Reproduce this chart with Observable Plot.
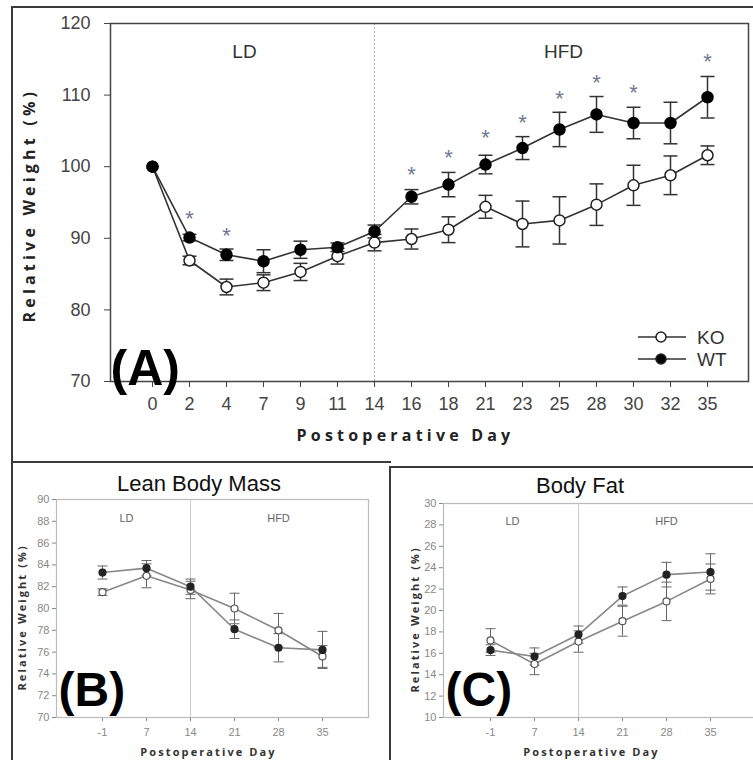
<!DOCTYPE html>
<html><head><meta charset="utf-8">
<script src="https://cdn.jsdelivr.net/npm/d3@7"></script>
<script src="https://cdn.jsdelivr.net/npm/@observablehq/plot@0.6"></script>
<style>
body{margin:0;background:#fff;}
#wrap{position:relative;width:753px;height:760px;overflow:hidden;background:#fff;font-family:"Liberation Sans",Arial,sans-serif;}
#wrap svg.plot{position:absolute;}
.ln{position:absolute;background:#3a3a3a;}
.ttl{position:absolute;font-size:22px;color:#111;transform:translate(-50%,-50%);white-space:nowrap;font-family:"Liberation Sans",Arial,sans-serif;}
</style></head><body><div id="wrap"></div>
<script>
// ---------- data ----------
const daysA = ["0","2","4","7","9","11","14","16","18","21","23","25","28","30","32","35"];
const koA    = [100,86.9,83.2,83.8,85.3,87.5,89.4,89.9,91.2,94.4,92.0,92.5,94.7,97.4,98.8,101.6];
const koAErr = [0,0.6,1.1,1.1,1.2,1.1,1.15,1.4,1.8,1.6,3.2,3.3,2.9,2.8,2.7,1.3];
const wtA    = [100,90.1,87.7,86.8,88.4,88.75,90.95,95.8,97.5,100.3,102.6,105.2,107.3,106.1,106.1,109.7];
const wtAErr = [0,0.45,0.8,1.6,1.2,0.6,0.9,1.0,1.7,1.3,1.6,2.4,2.5,2.2,2.9,2.9];
const starDays = ["2","4","16","18","21","23","25","28","30","35"];
const starY    = [93.6,91.1,99.75,102.0,104.8,107.0,110.3,112.6,111.1,115.4];
const ticksA = [70,80,90,100,110,120];

const daysBC = ["-1","7","14","21","28","35"];
const koB    = [81.5,83.0,81.7,80.0,78.0,75.6];
const koBErr = [0.3,1.1,0.8,1.4,1.55,1.0];
const wtB    = [83.3,83.7,82.0,78.1,76.4,76.2];
const wtBErr = [0.6,0.7,0.7,0.85,1.3,1.7];
const ticksB = [70,72,74,76,78,80,82,84,86,88,90];

const koC    = [17.2,15.0,17.1,19.0,20.85,22.95];
const koCErr = [1.1,1.0,1.0,1.4,1.8,1.4];
const wtC    = [16.3,15.7,17.75,21.35,23.35,23.6];
const wtCErr = [0.5,0.8,0.8,0.85,1.15,1.7];
const ticksC = [10,12,14,16,18,20,22,24,26,28,30];

const groups = ["KO","WT"];
const phases = ["LD","HFD"];
const titles = ["Lean Body Mass","Body Fat"];
const panelTags = ["(A)","(B)","(C)"];
const xTitle = "Postoperative Day";
const yTitle = "Relative Weight (%)";

// ---------- helpers ----------
const cap = {draw(ctx, size){const r = Math.sqrt(size/Math.PI); ctx.moveTo(-r,0); ctx.lineTo(r,0);}};
function rows(days, ko, koE, wt, wtE){
  return days.flatMap((d,i)=>[{day:d,v:ko[i],e:koE[i],g:"KO"},{day:d,v:wt[i],e:wtE[i],g:"WT"}]);
}
function errMarks(data, o){
  const d = data.filter(r=>r.e>0);
  return [
    Plot.ruleX(d,{x:"day",y1:r=>r.v-r.e,y2:r=>r.v+r.e,stroke:o.stroke,strokeWidth:o.sw}),
    Plot.dot(d,{x:"day",y:r=>r.v+r.e,symbol:cap,r:o.cap,stroke:o.stroke,strokeWidth:o.sw}),
    Plot.dot(d,{x:"day",y:r=>r.v-r.e,symbol:cap,r:o.cap,stroke:o.stroke,strokeWidth:o.sw})
  ];
}
const wrap = document.getElementById("wrap");
function place(svg, left, top){ svg.classList.add("plot"); svg.style.left=left+"px"; svg.style.top=top+"px"; wrap.appendChild(svg); }
function line(l,t,w,h){ const d=document.createElement("div"); d.className="ln"; Object.assign(d.style,{left:l+"px",top:t+"px",width:w+"px",height:h+"px"}); wrap.appendChild(d); }
function spaceLabels(svg, sp){
  d3.select(svg).selectAll("text").filter(function(){return this.textContent===xTitle||this.textContent===yTitle;})
    .style("letter-spacing", sp+"px");
}

// ---------- panel A ----------
const dataA = rows(daysA, koA, koAErr, wtA, wtAErr);
const plotA = Plot.plot({
  width:753, height:462, marginLeft:110, marginRight:5, marginTop:23, marginBottom:81,
  style:{fontFamily:"Liberation Sans, Arial, sans-serif", fontSize:"18px", color:"#444", background:"transparent", overflow:"visible"},
  x:{type:"point", domain:daysA, padding:1},
  y:{domain:[70,120]},
  marks:[
    Plot.ruleX(["14"],{stroke:"#aaa",strokeDasharray:"2,2",strokeWidth:1}),
    Plot.axisY({ticks:ticksA, tickSize:6, tickPadding:14, label:null}),
    Plot.axisX({tickSize:6, tickPadding:10, label:null}),
    Plot.frame({stroke:"#444",strokeWidth:1.5}),
    ...errMarks(dataA,{stroke:"#333",sw:1.5,cap:7}),
    Plot.line(dataA,{x:"day",y:"v",z:"g",stroke:"#333",strokeWidth:1.6}),
    Plot.dot(dataA.filter(r=>r.g==="KO"),{x:"day",y:"v",r:5.5,fill:"#fff",stroke:"#222",strokeWidth:1.5}),
    Plot.dot(dataA.filter(r=>r.g==="WT"),{x:"day",y:"v",r:5.5,fill:"#000",stroke:"#000",strokeWidth:1.5}),
    Plot.text(starDays,{x:d=>d,y:(d,i)=>starY[i],text:()=>"*",fontSize:22,fill:"#6f7891",dy:6}),
    Plot.text([phases[0]],{x:()=>"7",frameAnchor:"top",dx:-19,dy:21,fontSize:19,fill:"#333"}),
    Plot.text([phases[1]],{x:()=>"25",frameAnchor:"top",dx:4,dy:21,fontSize:19,fill:"#333"}),
    Plot.text([panelTags[0]],{frameAnchor:"bottom-left",textAnchor:"start",lineAnchor:"bottom",fontSize:50,fontWeight:"bold",fill:"#000",dy:3}),
    Plot.text([yTitle],{frameAnchor:"left",rotate:-90,textAnchor:"start",dx:-81,dy:120,fontSize:16,fontWeight:"bold",fontFamily:"Open Sans",fill:"#222"}),
    Plot.text([xTitle],{frameAnchor:"bottom",dx:-24,dy:59,fontSize:16,fontWeight:"bold",fontFamily:"Open Sans",fill:"#222"})
  ]
});
spaceLabels(plotA, 4.2);
place(plotA,0,0);

// legend for A
const leg = d3.select(wrap).append("svg").attr("width",110).attr("height",50)
  .style("position","absolute").style("left","630px").style("top","324px");
groups.forEach((g,i)=>{
  const y = 13 + i*22;
  leg.append("line").attr("x1",8).attr("x2",56).attr("y1",y).attr("y2",y).attr("stroke","#333").attr("stroke-width",1.5);
  leg.append("circle").attr("cx",31).attr("cy",y).attr("r",5).attr("fill",g==="WT"?"#000":"#fff").attr("stroke","#222").attr("stroke-width",1.5);
  leg.append("text").attr("x",67).attr("y",y).attr("dy","0.36em").attr("font-size",19).attr("fill","#333")
    .attr("font-family","Liberation Sans, Arial, sans-serif").text(g);
});

// ---------- panels B, C ----------
function smallPanel(days, data, ticks, ydom, opts){
  const p = Plot.plot({
    width:opts.w, height:298, marginLeft:opts.ml, marginRight:opts.mr, marginTop:opts.mt, marginBottom:opts.mb,
    style:{fontFamily:"Liberation Sans Narrow, Liberation Sans, Arial, sans-serif", fontSize:"11px", color:"#888", background:"transparent", overflow:"visible"},
    x:{type:"point", domain:days, padding:1},
    y:{domain:ydom},
    marks:[
      Plot.ruleX(["14"],{stroke:"#ccc",strokeWidth:1}),
      Plot.axisY({ticks, tickSize:4, tickPadding:3, label:null}),
      Plot.axisX({tickSize:4, tickPadding:7, label:null}),
      Plot.frame({stroke:"#bbb",strokeWidth:1.2}),
      ...errMarks(data,{stroke:"#666",sw:1,cap:5}),
      Plot.line(data,{x:"day",y:"v",z:"g",stroke:"#888",strokeWidth:1.6}),
      Plot.dot(data.filter(r=>r.g==="KO"),{x:"day",y:"v",r:3.5,fill:"#fff",stroke:"#555",strokeWidth:1.2}),
      Plot.dot(data.filter(r=>r.g==="WT"),{x:"day",y:"v",r:3.5,fill:"#222",stroke:"#222",strokeWidth:1.2}),
      Plot.text([phases[0]],{x:()=>"-1",frameAnchor:"top",dx:opts.ldx,dy:opts.phy,fontSize:11,fill:"#666"}),
      Plot.text([phases[1]],{x:()=>"28",frameAnchor:"top",dy:opts.phy,fontSize:11,fill:"#666"}),
      Plot.text([opts.tag],{frameAnchor:"bottom-left",textAnchor:"start",lineAnchor:"bottom",dx:2,dy:opts.tagdy,fontSize:48,fontWeight:"bold",fill:"#000"}),
      Plot.text([yTitle],{frameAnchor:"left",rotate:-90,textAnchor:"start",dx:opts.ylx,dy:82,fontSize:11,fontWeight:"bold",fontFamily:"Open Sans",fill:"#333"}),
      Plot.text([xTitle],{frameAnchor:"bottom",dx:opts.xlx,dy:38,fontSize:11,fontWeight:"bold",fontFamily:"Open Sans",fill:"#333"})
    ]
  });
  spaceLabels(p, 2.1);
  return p;
}
const plotB = smallPanel(daysBC, rows(daysBC,koB,koBErr,wtB,wtBErr), ticksB, [70,90],
  {w:390, ml:56, mr:22, mt:37, mb:43, ldx:24, phy:15, tag:panelTags[1], tagdy:-12, ylx:-34, xlx:-4});
place(plotB,0,462);
const plotC = smallPanel(daysBC, rows(daysBC,koC,koCErr,wtC,wtCErr), ticksC, [10,30],
  {w:372, ml:53, mr:5, mt:41, mb:43, ldx:22, phy:14, tag:panelTags[2], tagdy:-12, ylx:-28, xlx:-9});
place(plotC,390,462);

// titles
[[titles[0],199,484],[titles[1],580,486]].forEach(([t,x,y])=>{
  const d=document.createElement("div"); d.className="ttl"; d.textContent=t; d.style.left=x+"px"; d.style.top=y+"px"; wrap.appendChild(d);
});

// panel borders
line(11,6,742,1.5);     // A top
line(11,6,1.5,456);     // A left
line(11,461,380,1.5);   // B top
line(11,461,1.5,299);   // B left
line(389,466,1.5,294);  // C left / B right
line(389,466,364,1.5);  // C top
</script></body></html>
